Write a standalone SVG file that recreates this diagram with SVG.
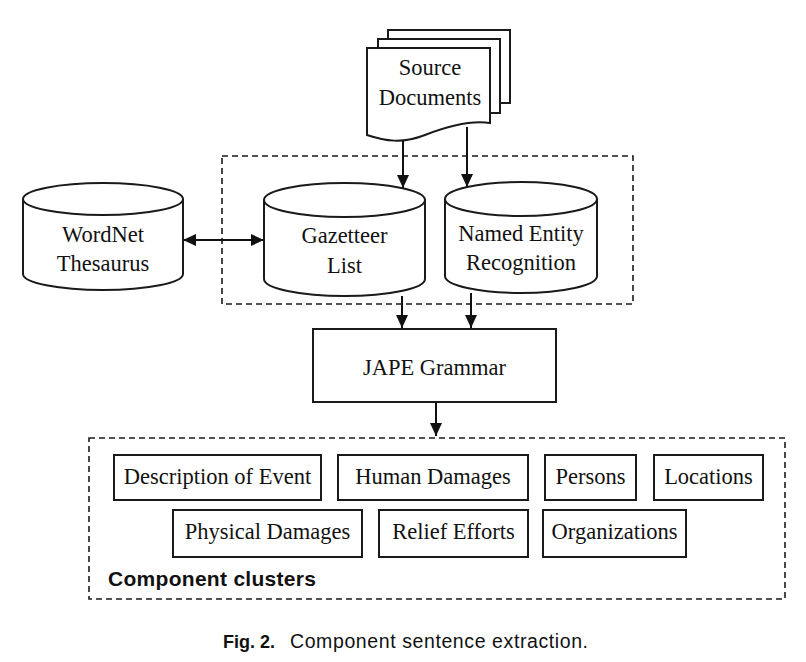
<svg xmlns="http://www.w3.org/2000/svg" width="806" height="662" viewBox="0 0 806 662">
<style>
.s{fill:#fff;stroke:#1a1a1a;stroke-width:2}
.d{fill:none;stroke:#1a1a1a;stroke-width:1.6;stroke-dasharray:6,4}
.t{font-family:"Liberation Serif","Times New Roman",serif;font-size:22.5px;fill:#111;text-anchor:middle}
.c{stroke:#111;stroke-width:2;fill:none}
</style>
<defs>
<marker id="ah" markerUnits="userSpaceOnUse" markerWidth="14" markerHeight="13" refX="13" refY="6" orient="auto-start-reverse"><path d="M0,0 L13,6 L0,12 z" fill="#111"/></marker>
</defs>
<rect width="806" height="662" fill="#fff"/>
<rect class="d" x="222" y="156" width="411" height="148"/>
<rect class="d" x="89" y="438" width="696" height="161"/>
<g id="source">
<rect class="s" x="388" y="30" width="122" height="73"/>
<rect class="s" x="378" y="39" width="122" height="74"/>
<path class="s" d="M367,48 H490 V123 C470,120 448,126 425,135 C402,144 385,141 367,135 Z"/>
<text class="t" x="430" y="75">Source</text>
<text class="t" x="430" y="105">Documents</text>
</g>
<g id="wordnet">
<path class="s" d="M23,199 V274 A80,16 0 0 0 183,274 V199"/>
<ellipse class="s" cx="103" cy="199" rx="80" ry="16"/>
<text class="t" x="103" y="242">WordNet</text>
<text class="t" x="103" y="271">Thesaurus</text>
</g>
<g id="gazetteer">
<path class="s" d="M264,200 V279 A80.5,17 0 0 0 425,279 V200"/>
<ellipse class="s" cx="344.5" cy="200" rx="80.5" ry="17"/>
<text class="t" x="344.5" y="243">Gazetteer</text>
<text class="t" x="344.5" y="273">List</text>
</g>
<g id="ner">
<path class="s" d="M445,199 V276 A76,17 0 0 0 597,276 V199"/>
<ellipse class="s" cx="521" cy="199" rx="76" ry="17"/>
<text class="t" x="521" y="241">Named Entity</text>
<text class="t" x="521" y="270">Recognition</text>
</g>
<g id="jape">
<rect class="s" x="313" y="329" width="243" height="73"/>
<text class="t" x="434.5" y="375">JAPE Grammar</text>
</g>
<g id="clusters">
<rect class="s" x="114" y="455" width="207" height="45"/>
<text class="t" x="217.5" y="484">Description of Event</text>
<rect class="s" x="338" y="455" width="190" height="45"/>
<text class="t" x="433" y="484">Human Damages</text>
<rect class="s" x="545" y="455" width="91" height="45"/>
<text class="t" x="590.5" y="484">Persons</text>
<rect class="s" x="654" y="455" width="109" height="45"/>
<text class="t" x="708.5" y="484">Locations</text>
<rect class="s" x="173" y="510" width="189" height="47"/>
<text class="t" x="267.5" y="539">Physical Damages</text>
<rect class="s" x="379" y="510" width="149" height="47"/>
<text class="t" x="453.5" y="539">Relief Efforts</text>
<rect class="s" x="543" y="510" width="143" height="47"/>
<text class="t" x="614.5" y="539">Organizations</text>
<text x="108" y="586" font-family="'Liberation Sans',Arial,sans-serif" font-size="21" font-weight="bold" fill="#111" textLength="208">Component clusters</text>
</g>
<g id="connectors">
<line class="c" x1="403" y1="141" x2="403" y2="188" marker-end="url(#ah)"/>
<line class="c" x1="467" y1="127" x2="467" y2="187" marker-end="url(#ah)"/>
<line class="c" x1="183" y1="240" x2="264" y2="240" marker-start="url(#ah)" marker-end="url(#ah)"/>
<line class="c" x1="402" y1="296" x2="402" y2="328" marker-end="url(#ah)"/>
<line class="c" x1="471" y1="293" x2="471" y2="328" marker-end="url(#ah)"/>
<line class="c" x1="436" y1="402" x2="436" y2="436" marker-end="url(#ah)"/>
</g>
<text x="223" y="648" font-family="'Liberation Sans',Arial,sans-serif" font-size="18" font-weight="bold" fill="#111">Fig. 2.</text>
<text x="290" y="648" font-family="'Liberation Sans',Arial,sans-serif" font-size="19.5" fill="#111" textLength="298">Component sentence extraction.</text>
</svg>
